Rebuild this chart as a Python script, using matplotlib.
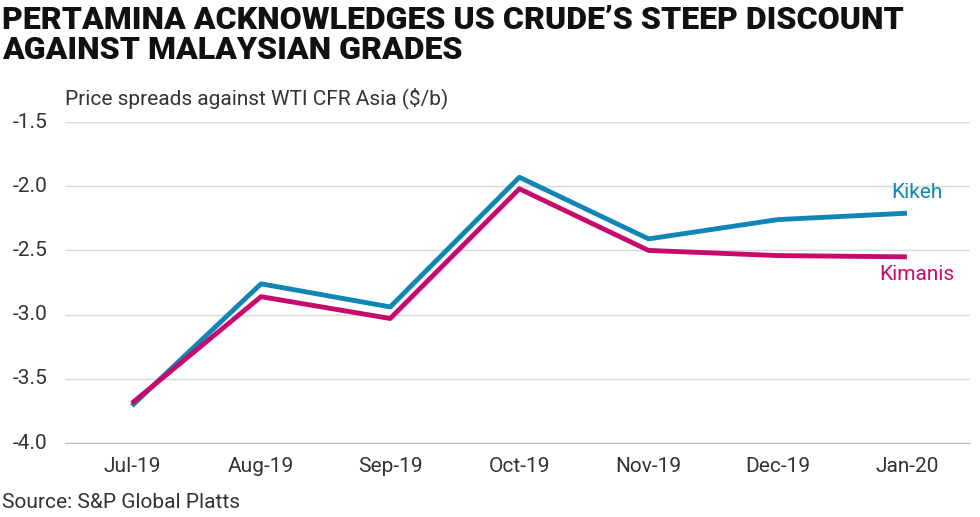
import matplotlib.pyplot as plt

plt.rcParams["font.family"] = "Roboto"

MONTHS = ["Jul-19", "Aug-19", "Sep-19", "Oct-19", "Nov-19", "Dec-19", "Jan-20"]
KIKEH = [-3.71, -2.76, -2.94, -1.93, -2.41, -2.26, -2.21]
KIMANIS = [-3.69, -2.86, -3.03, -2.02, -2.50, -2.54, -2.55]
Y_TICKS = [-4.0, -3.5, -3.0, -2.5, -2.0, -1.5]

KIKEH_COLOR = "#0f86b5"
KIMANIS_COLOR = "#c80a6e"

fig = plt.figure(figsize=(9.8, 5.17), dpi=100)
ax = fig.add_axes([0.066, 0.143, 0.924, 0.621])

x = list(range(len(MONTHS)))
ax.plot(x, KIKEH, color=KIKEH_COLOR, linewidth=3.5, solid_capstyle="butt")
ax.plot(x, KIMANIS, color=KIMANIS_COLOR, linewidth=3.5, solid_capstyle="butt")

ax.set_xlim(-0.52, 6.49)
ax.set_ylim(-4.0, -1.5)
ax.set_yticks(Y_TICKS)
ax.set_yticklabels([])
ax.set_xticks(x)
ax.set_xticklabels(MONTHS)
ax.grid(axis="y", color="#d9d9d9", linewidth=1)
ax.set_axisbelow(True)
for s in ["top", "right", "left"]:
    ax.spines[s].set_visible(False)
ax.spines["bottom"].set_color("#bfbfbf")
ax.tick_params(axis="both", length=0, labelsize=15, colors="#333333")
ax.tick_params(axis="x", pad=10)

# left-aligned y labels like the reference
for v in Y_TICKS:
    ax.text(-0.058, v, f"{v:.1f}", transform=ax.get_yaxis_transform(),
            ha="left", va="center", fontsize=15, color="#333333")

ax.text(6.08, -2.05, "Kikeh", color=KIKEH_COLOR, fontsize=15, ha="center", va="center")
ax.text(6.08, -2.69, "Kimanis", color=KIMANIS_COLOR, fontsize=15, ha="center", va="center")

fig.text(0.002, 0.99, "PERTAMINA ACKNOWLEDGES US CRUDE\u2019S STEEP DISCOUNT\nAGAINST MALAYSIAN GRADES",
         fontsize=23, fontweight="heavy", va="top", ha="left", linespacing=1.0, color="#111111")
fig.text(0.066, 0.79, "Price spreads against WTI CFR Asia ($/b)", fontsize=15, color="#333333",
         va="bottom", ha="left")
fig.text(0.002, 0.01, "Source: S&P Global Platts", fontsize=15, color="#333333", va="bottom", ha="left")

fig.savefig("out.png", dpi=100)
